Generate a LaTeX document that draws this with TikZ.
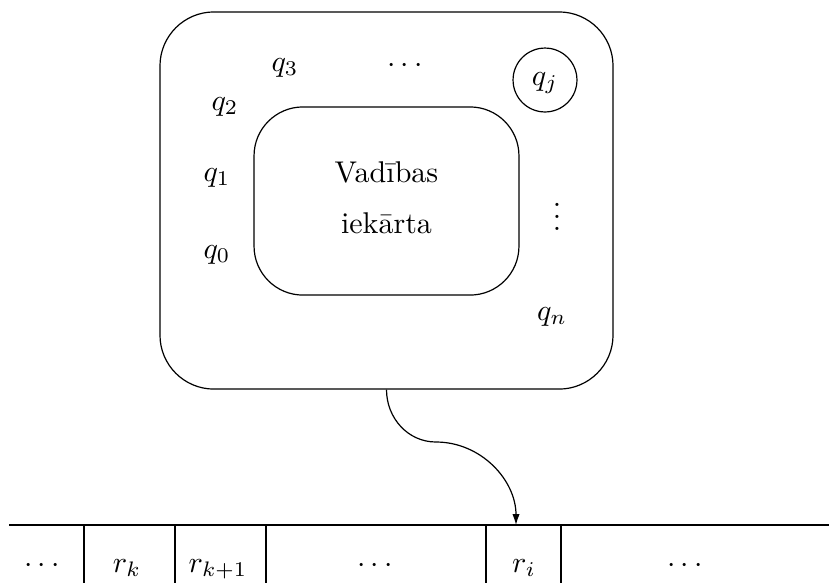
\documentclass[tikz,border=0pt]{standalone}
\usepackage{fontspec}
\usetikzlibrary{arrows.meta}
\begin{document}
\begin{tikzpicture}[x=0.3333pt,y=-0.3333pt,line width=0.4pt,
  lbl/.style={inner sep=0pt,anchor=base},
  box/.style={draw,inner sep=0pt,rounded corners=#1},
  sep/.style={draw}]
\useasboundingbox (0,0) rectangle (829,583);
% outer control unit box
\node[box=18pt,minimum width=151pt,minimum height=125.7pt] (outer) at (386.5,200.5) {};
\node[box=16.3pt,minimum width=88.3pt,minimum height=62.7pt,align=center] (inner) at (386.5,201)
  {Vad\={\i}bas\\[5pt]iek\={a}rta\vphantom{g}};
\node[draw,circle,inner sep=0pt,minimum size=21.3pt] (qj) at (545,80) {};
\node[lbl] (qjl) at (545,85) {$q_j$};
\node[lbl] (q3) at (285,71) {$q_3$};
\node[lbl] (hd) at (405,72) {$\cdots$};
\node[lbl] (q2) at (225,110) {$q_2$};
\node[lbl] (q1) at (217,181) {$q_1$};
\node[lbl] (q0) at (217,258) {$q_0$};
\node[inner sep=0pt] (vd) at (557,208) {$\vdots$};
\node[lbl] (qn) at (552,320) {$q_n$};
% tape
\coordinate (tl) at (9,525);
\coordinate (tr) at (829,525);
\draw (tl) -- (tr);
\foreach \x [count=\i] in {84,175,266,486,561}{
  \coordinate (s\i t) at (\x,525);
  \coordinate (s\i b) at (\x,583);
  \draw (s\i t) -- (s\i b);
}
\node[lbl] (c0) at (42,572) {$\cdots$};
\node[lbl] (rk) at (127,572) {$r_k$};
\node[lbl] (rk1) at (218,572) {$r_{k+1}$};
\node[lbl] (c1) at (375,572) {$\cdots$};
\node[lbl] (ri) at (524,572) {$r_i$};
\node[lbl] (c2) at (685,572) {$\cdots$};
% head arrow
\coordinate (mid) at (436,442);
\coordinate (head) at (516,525);
\draw[-{Latex[length=3.6pt,width=2.4pt]}] (outer.south) to[out=-90,in=180] (mid) to[out=0,in=90] (head);
\end{tikzpicture}
\end{document}
